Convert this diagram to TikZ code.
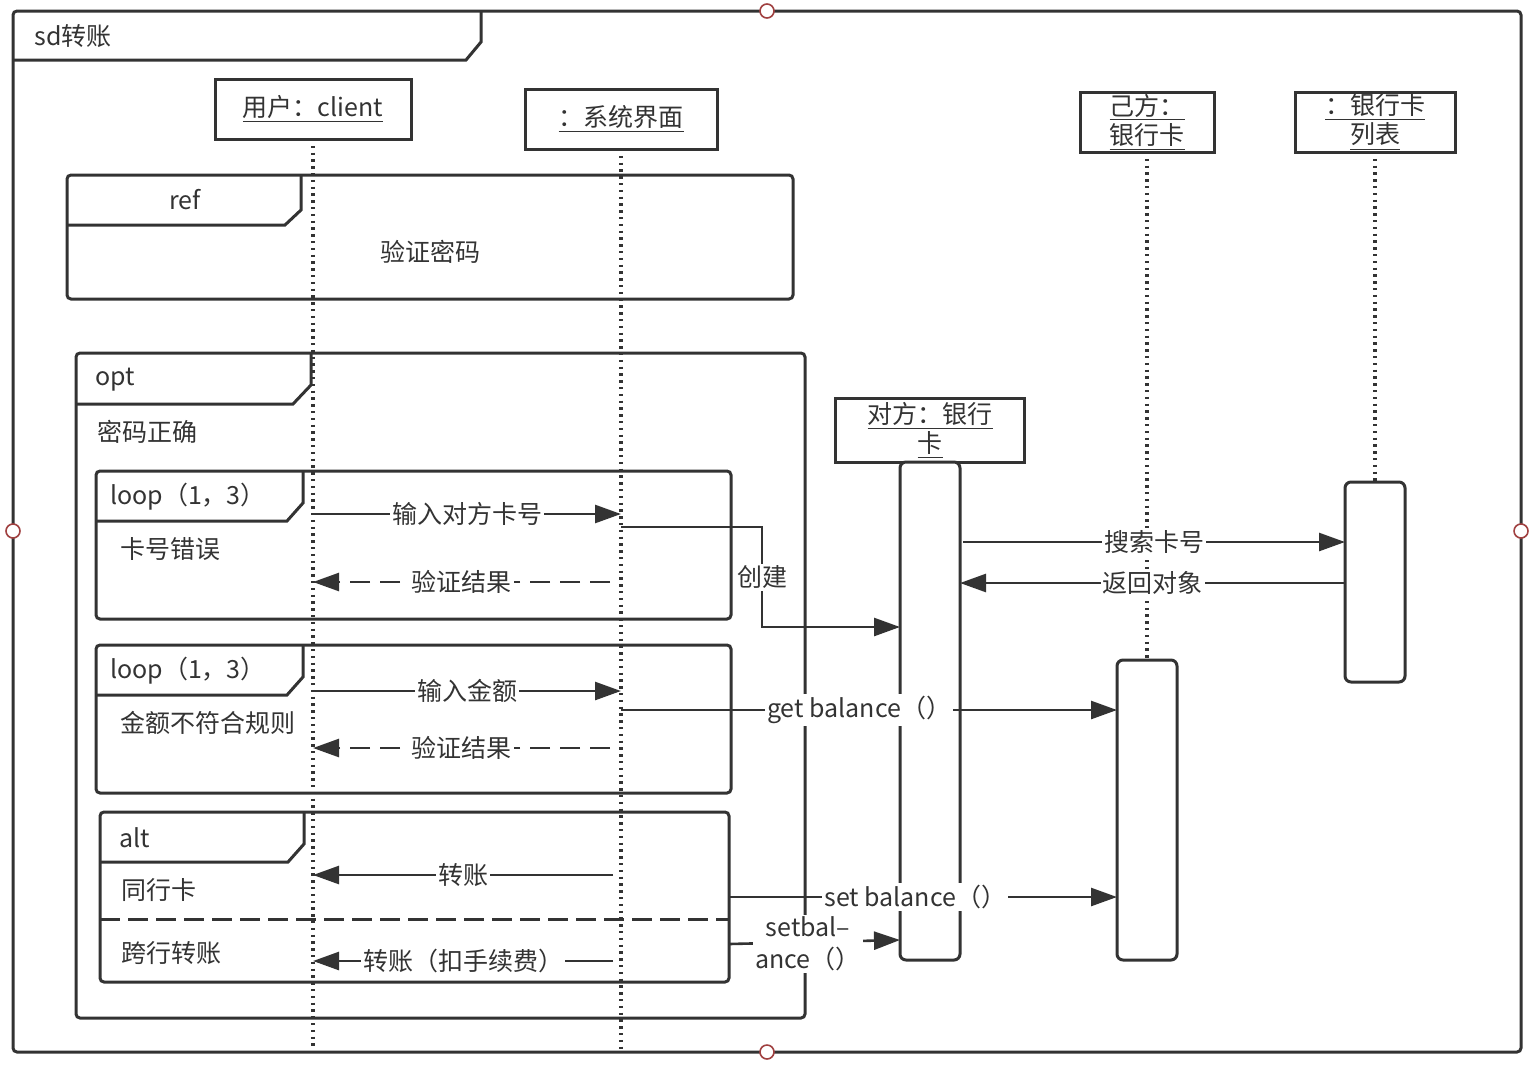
\documentclass[tikz,border=0pt]{standalone}
\usepackage{fontspec}
\setmainfont{Noto Sans CJK SC}
\usetikzlibrary{arrows.meta}
\definecolor{ln}{HTML}{333333}
\definecolor{hd}{HTML}{A04040}
\begin{document}
\begin{tikzpicture}[x=0.5pt,y=-0.5pt,
  every node/.style={font=\fontsize{12.5}{14}\selectfont,text=ln},
  frame/.style={draw=ln,line width=1.5pt,rounded corners=2pt},
  tab/.style={draw=ln,line width=1.5pt},
  life/.style={draw=ln,line width=1.6pt,dash pattern=on 1.2pt off 2.2pt},
  hbox/.style={draw=ln,line width=1.5pt,fill=white,inner sep=0pt},
  act/.style={draw=ln,line width=1.5pt,fill=white,rounded corners=3pt},
  msg/.style={draw=ln,line width=1.3pt,-{Triangle[length=13pt,width=9pt]}},
  ret/.style={msg,dash pattern=on 10pt off 5pt},
  lbl/.style={fill=white,inner sep=1pt},
  handle/.style={draw=hd,line width=0.8pt,fill=white}]
\useasboundingbox (0,0) rectangle (1534,1066);
% outer frame
\draw[frame] (13,11) rectangle (1521,1052);
\draw[tab] (13,60) -- (466,60) -- (481,42) -- (481,11);
\node (title) at (73,36) {sd转账};
% lifelines
\coordinate (u0) at (313,139); \coordinate (u1) at (313,1050);
\coordinate (s0) at (621,149); \coordinate (s1) at (621,1050);
\coordinate (j0) at (1147,152); \coordinate (j1) at (1147,660);
\coordinate (l0) at (1375,152); \coordinate (l1) at (1375,482);
\draw[life] (u0) -- (u1);
\draw[life] (s0) -- (s1);
\draw[life] (j0) -- (j1);
\draw[life] (l0) -- (l1);
\node[hbox,minimum width=98pt,minimum height=30pt] (user) at (313,109) {\underline{用户：client}};
\node[hbox,minimum width=96pt,minimum height=30pt] (sys) at (621,119) {\underline{：系统界面}};
\node[hbox,minimum width=67pt,minimum height=30pt,align=center,font=\fontsize{12.5}{13}\selectfont] (own) at (1147,122) {\underline{己方：}\\\underline{银行卡}};
\node[hbox,minimum width=80pt,minimum height=30pt,align=center,font=\fontsize{12.5}{13}\selectfont] (list) at (1375,122) {\underline{：银行卡}\\\underline{列表}};
\node[hbox,minimum width=94.5pt,minimum height=32pt,align=center,font=\fontsize{12.5}{13}\selectfont] (other) at (930,430) {\underline{对方：银行}\\\underline{卡}};
% activations
\draw[act] (900,462) rectangle (960,960);
\draw[act] (1345,482) rectangle (1405,682);
\draw[act] (1117,660) rectangle (1177,960);
% ref
\draw[frame] (67,175) rectangle (793,299);
\draw[tab] (67,225) -- (285,225) -- (301,210) -- (301,175);
\node (ref) at (185,200) {ref};
\node (pw) at (430,252) {验证密码};
% opt
\draw[frame] (76,353) rectangle (805,1018);
\draw[tab] (76,404) -- (293,404) -- (311,385) -- (311,353);
\node (opt) at (115,380) {opt};
\node (ok) at (147,432) {密码正确};
% loop1
\draw[frame] (96,471) rectangle (731,619);
\draw[tab] (96,521) -- (287,521) -- (303,503) -- (303,471);
\node (lp1) at (188,497) {loop（1，3）};
\node (c1) at (170,549) {卡号错误};
% loop2
\draw[frame] (96,645) rectangle (731,793);
\draw[tab] (96,695) -- (287,695) -- (303,677) -- (303,645);
\node (lp2) at (188,671) {loop（1，3）};
\node (c2) at (208,723) {金额不符合规则};
% alt
\draw[frame] (100,812) rectangle (729,982);
\draw[tab] (100,862) -- (288,862) -- (304,844) -- (304,812);
\node (alt) at (135,838) {alt};
\node (g1) at (159,890) {同行卡};
\draw[ln,line width=1.5pt,dash pattern=on 10pt off 4pt] (100,919) -- (729,919);
\node (g2) at (171,953) {跨行转账};
% messages
\draw[msg] (313,514) -- node[lbl]{输入对方卡号} (621,514);
\draw[ret] (610,582) -- node[lbl]{验证结果} (313,582);
\draw[msg] (621,527) -- (762,527) -- node[lbl,pos=0.5]{创建} (762,627) -- (900,627);
\draw[msg] (313,691) -- node[lbl]{输入金额} (621,691);
\draw[ret] (610,748) -- node[lbl]{验证结果} (313,748);
\draw[msg] (621,710) -- node[lbl,pos=0.48]{get balance（）} (1117,710);
\draw[msg] (963,542) -- node[lbl]{搜索卡号} (1345,542);
\draw[msg] (1345,583) -- node[lbl]{返回对象} (960,583);
\draw[msg] (613,875) -- node[lbl]{转账} (313,875);
\draw[msg] (613,961) -- node[lbl,pos=0.5]{转账（扣手续费）} (313,961);
\draw[msg] (729,897) -- node[lbl,pos=0.48]{set balance（）} (1117,897);
\draw[msg] (729,944) -- (900,940);
\node[lbl,align=center,font=\fontsize{12.5}{16}\selectfont] (sb) at (808,944) {setbal–\\ance（）};
% handles
\draw[handle] (767,11) circle (7);
\draw[handle] (767,1052) circle (7);
\draw[handle] (13,531) circle (7);
\draw[handle] (1521,531) circle (7);
\end{tikzpicture}
\end{document}
